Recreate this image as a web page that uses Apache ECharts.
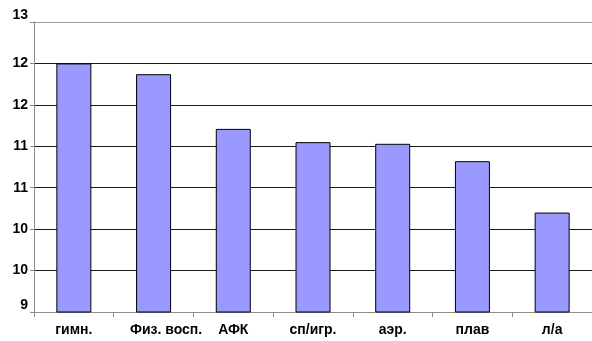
<!DOCTYPE html>
<html>
<head>
<meta charset="utf-8">
<script src="https://cdn.jsdelivr.net/npm/echarts@6/dist/echarts.min.js"></script>
<style>
    html, body { margin: 0; padding: 0; background: #fff; }
    #chart { width: 592px; height: 341px; }
</style>
</head>
<body>
<div id="chart"></div>
<script>
// categories and values
const categories = ["гимн.", "Физ. восп.", "АФК", "сп/игр.", "аэр.", "плав", "л/а"]
const values = [12.0, 11.87, 11.21, 11.05, 11.03, 10.82, 10.2]
const yMin = 9
const yMax = 12.5
const yStep = 0.5

const chart = echarts.init(document.getElementById("chart"))
const font = "'Liberation Sans', Arial, sans-serif"

const option = {
    animation: false,
    grid: {
        left: 34,
        top: 22,
        width: 567,
        bottom: 29,
        containLabel: false
    },
    xAxis: {
        type: "category",
        data: categories,
        boundaryGap: true,
        axisLine: {
            show: true,
            lineStyle: { color: "#8c8c8c", width: 1 }
        },
        axisTick: {
            show: true,
            alignWithLabel: false,
            length: 5,
            lineStyle: { color: "#8c8c8c" }
        },
        axisLabel: {
            interval: 0,
            hideOverlap: false,
            margin: 11,
            color: "#000",
            fontFamily: font,
            fontWeight: "bold",
            fontSize: 14,
            // the long second label sits a bit right of its bar in the original
            formatter: (v, i) => i === 1 ? "{s|" + v + "}" : v,
            rich: {
                s: {
                    padding: [0, 0, 0, 25],
                    color: "#000",
                    fontFamily: font,
                    fontWeight: "bold",
                    fontSize: 14
                }
            }
        },
        splitLine: { show: false }
    },
    yAxis: {
        type: "value",
        min: yMin,
        max: yMax,
        interval: yStep,
        axisLine: {
            show: true,
            lineStyle: { color: "#8c8c8c", width: 1 }
        },
        axisTick: {
            show: true,
            length: 4,
            lineStyle: { color: "#8c8c8c" }
        },
        axisLabel: {
            margin: 6,
            color: "#000",
            fontFamily: font,
            fontWeight: "bold",
            fontSize: 14,
            verticalAlignMinLabel: "bottom",
            verticalAlignMaxLabel: "bottom",
            formatter: v => String(Math.round(v))
        },
        splitLine: {
            show: true,
            lineStyle: {
                color: ["#8c8c8c", "#1a1a1a", "#1a1a1a", "#1a1a1a", "#1a1a1a", "#1a1a1a", "#1a1a1a", "#9a9a9a"],
                width: 1
            }
        }
    },
    series: [
        {
            type: "bar",
            data: values,
            barWidth: 35,
            itemStyle: {
                color: "#9999ff",
                borderColor: "#000",
                borderWidth: 1
            }
        }
    ]
}

chart.setOption(option)
</script>
</body>
</html>
